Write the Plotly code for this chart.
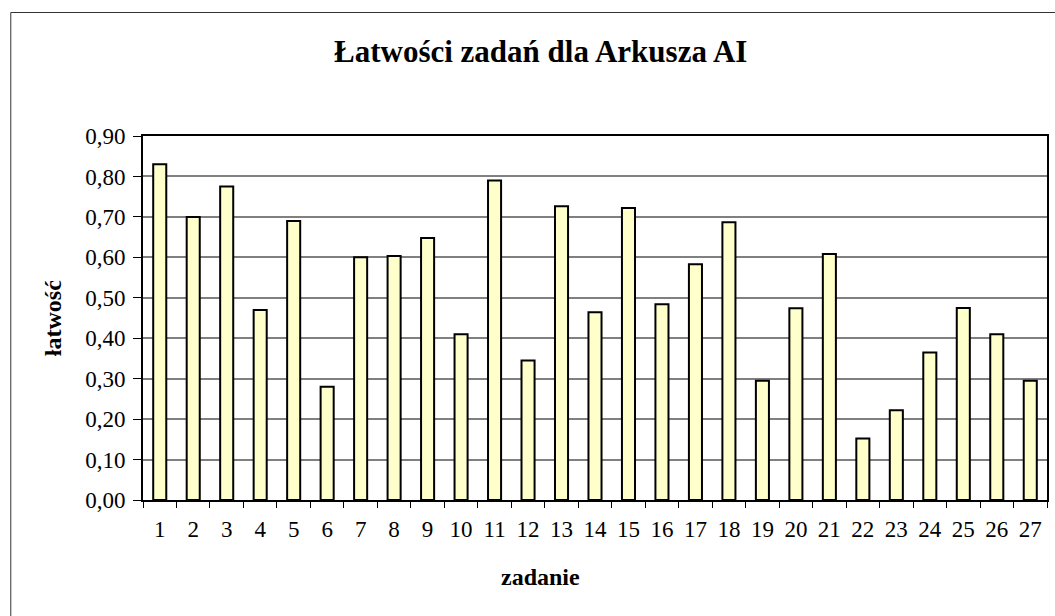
import plotly.graph_objects as go

zadania = [str(i) for i in range(1, 28)]
latwosc = [0.83, 0.70, 0.775, 0.47, 0.69, 0.28, 0.60, 0.603, 0.648, 0.41,
           0.79, 0.345, 0.726, 0.464, 0.722, 0.484, 0.583, 0.687, 0.295, 0.474,
           0.608, 0.152, 0.222, 0.365, 0.475, 0.41, 0.295]
y_ticks = [0.0, 0.1, 0.2, 0.3, 0.4, 0.5, 0.6, 0.7, 0.8, 0.9]
y_tick_labels = ["0,00", "0,10", "0,20", "0,30", "0,40", "0,50", "0,60", "0,70", "0,80", "0,90"]
title_text = "Łatwości zadań dla Arkusza AI"
x_title = "zadanie"
y_title = "łatwość"

FONT = "'Liberation Serif', 'Times New Roman', Times, serif"
W, H = 1055, 616
L, R, T, B = 143, 1049, 136, 500

def px_x(p):
    return (p - L) / (R - L)

def px_y(p):
    return (B - p) / (B - T)

fig = go.Figure(go.Bar(
    x=zadania, y=latwosc,
    marker=dict(color="#FFFFCC", line=dict(color="black", width=2)),
))

fig.update_layout(
    width=W, height=H,
    margin=dict(l=L, r=W - R, t=T, b=H - B, pad=0),
    paper_bgcolor="white", plot_bgcolor="white",
    bargap=0.61,
    showlegend=False,
    font=dict(family=FONT, color="black", size=23),
)

fig.update_xaxes(
    type="category", tickson="boundaries", ticks="outside", ticklen=6,
    tickwidth=1, tickcolor="black", ticklabelstandoff=7,
    showline=True, linecolor="black", linewidth=2, mirror=True,
    showgrid=False, tickfont=dict(family=FONT, size=23),
)
fig.update_yaxes(
    range=[0, 0.9], tickvals=y_ticks, ticktext=y_tick_labels,
    ticks="outside", ticklen=8, tickwidth=1, tickcolor="black",
    ticklabelstandoff=3,
    showline=True, linecolor="black", linewidth=2, mirror=True,
    showgrid=True, gridcolor="#808080", gridwidth=1.5,
    zeroline=False, tickfont=dict(family=FONT, size=23),
)

fig.add_annotation(text="<b>" + title_text + "</b>", xref="paper", yref="paper",
                   x=px_x(541), y=px_y(52), showarrow=False,
                   xanchor="center", yanchor="middle",
                   font=dict(family=FONT, size=31, color="black"))
fig.add_annotation(text="<b>" + x_title + "</b>", xref="paper", yref="paper",
                   x=px_x(541), y=px_y(577), showarrow=False,
                   xanchor="center", yanchor="middle",
                   font=dict(family=FONT, size=24, color="black"))
fig.add_annotation(text="<b>" + y_title + "</b>", xref="paper", yref="paper",
                   x=px_x(53), y=px_y(318), showarrow=False, textangle=-90,
                   xanchor="center", yanchor="middle",
                   font=dict(family=FONT, size=24, color="black"))

fig.add_shape(type="rect", xref="paper", yref="paper",
              x0=px_x(10.5), x1=px_x(1070), y0=px_y(12.5), y1=px_y(640),
              line=dict(color="#333333", width=1), fillcolor="rgba(0,0,0,0)",
              layer="below")

fig.write_html("out.html", config={"displayModeBar": False},
               post_script="document.body.style.margin='0';document.body.style.overflow='hidden';")
